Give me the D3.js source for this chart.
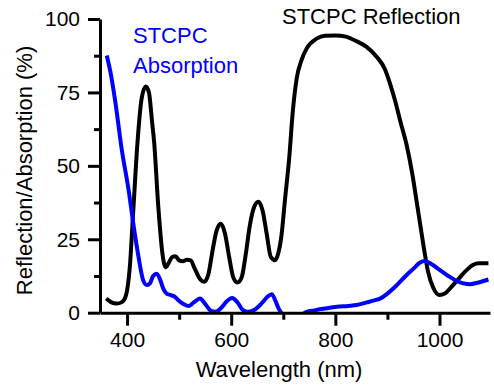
<!DOCTYPE html>
<html>
<head>
<meta charset="utf-8">
<script src="https://cdn.jsdelivr.net/npm/d3@7"></script>
<style>
  html, body { margin: 0; padding: 0; background: #fff; }
  svg { display: block; font-family: "Liberation Sans", Arial, sans-serif; }
</style>
</head>
<body>
<div id="chart"></div>
<script>
// Reflection spectrum (black)
const reflWl = [360, 370, 380, 390, 398, 405, 412, 420, 428, 436, 442, 448, 452, 460, 468, 474, 480, 487, 493, 500, 507, 515, 522, 530, 540, 548, 556, 564, 572, 580, 588, 596, 604, 612, 620, 628, 636, 644, 652, 660, 668, 676, 684, 690, 697, 703, 712, 718, 726, 735, 745, 764, 780, 800, 820, 840, 860, 880, 895, 905, 915, 925, 937, 948, 956, 963, 970, 978, 988, 1000, 1010, 1023, 1038, 1052, 1065, 1075, 1094];
const reflVal = [4.8, 3.5, 3.1, 3.6, 6, 15, 35, 58, 73, 77, 75, 65, 58, 36, 20, 15.5, 17, 19, 19.2, 17.8, 17.5, 18, 17.8, 15, 11.5, 10.5, 13, 21, 28, 30.3, 27, 19, 12, 10.3, 12, 20, 30, 36, 37.8, 35, 27, 19, 17.9, 20, 27, 38, 54, 68, 80, 86, 90, 93.3, 94.3, 94.4, 94, 92.5, 90.5, 87, 83, 78, 72, 65, 57, 47, 38, 30, 22, 14, 8.5, 6, 6.5, 8.8, 11.8, 14.5, 16.3, 16.8, 16.8];

// Absorption spectrum (blue)
const absWl = [361, 368, 377, 390, 403, 412, 422, 431, 438, 444, 450, 457, 464, 470, 476, 484, 492, 500, 510, 518, 528, 540, 550, 560, 569, 580, 592, 602, 612, 622, 633, 645, 660, 670, 678, 685, 691, 696, 705, 720, 735, 745, 760, 780, 803, 825, 841, 860, 875, 886, 900, 918, 935, 950, 962, 972, 985, 1001, 1017, 1033, 1046, 1059, 1075, 1094];
const absVal = [87.6, 82, 72.3, 55.3, 41.7, 30.3, 19, 11, 9.4, 10, 12.5, 13.3, 11, 8, 6.5, 6, 5.4, 4, 2.8, 2.3, 3.5, 4.8, 3, 0.8, 0.3, 1.5, 4, 5, 3.5, 1, 0.3, 1, 3.5, 5.5, 6.3, 4, 1.5, 0, -2, -2.5, -0.8, 0.3, 0.8, 1.4, 2, 2.3, 2.6, 3.5, 4.2, 4.8, 6.5, 9.4, 12.5, 15, 17, 17.6, 16.5, 14.5, 12.5, 10.8, 10, 9.7, 10.3, 11.3];

const xMajor = [400, 600, 800, 1000];
const xMinor = [500, 700, 900, 1100];
const yMajor = [0, 25, 50, 75, 100];
const yMinor = [12.5, 37.5, 62.5, 87.5];

const W = 494, H = 386;
const svg = d3.select('#chart').append('svg').attr('width', W).attr('height', H);

const x = d3.scaleLinear().domain([348, 1097]).range([100, 490]);
const y = d3.scaleLinear().domain([0, 100]).range([312.7, 19]);

svg.append('clipPath').attr('id', 'clip')
  .append('rect').attr('x', 100).attr('y', 0).attr('width', 395).attr('height', y(0));

const line = d3.line().x(d => x(d[0])).y(d => y(d[1])).curve(d3.curveMonotoneX);
const refl = reflWl.map((w, i) => [w, reflVal[i]]);
const abs = absWl.map((w, i) => [w, absVal[i]]);

svg.append('path').datum(refl).attr('d', line)
  .attr('fill', 'none').attr('stroke', '#000').attr('stroke-width', 4).attr('stroke-linejoin', 'round');
svg.append('path').datum(abs).attr('d', line).attr('clip-path', 'url(#clip)')
  .attr('fill', 'none').attr('stroke', '#0000ff').attr('stroke-width', 4).attr('stroke-linejoin', 'round');

// axes
function styleAxis(g) {
  g.selectAll('path, line').attr('stroke', '#000').attr('stroke-width', 3);
  g.selectAll('text').attr('fill', '#000').style('font-size', '21px').style('font-family', '"Liberation Sans", Arial, sans-serif');
}
svg.append('g').attr('transform', `translate(0,${y(0)})`)
  .call(d3.axisBottom(x).tickValues(xMinor.filter(v => v <= 1097)).tickSize(7).tickSizeOuter(0).tickFormat(''))
  .call(styleAxis).select('.domain').remove();
svg.append('g').attr('transform', `translate(0,${y(0)})`)
  .call(d3.axisBottom(x).tickValues(xMajor).tickSize(13).tickSizeOuter(0).tickPadding(6).tickFormat(d3.format('d')))
  .call(styleAxis);
svg.append('g').attr('transform', 'translate(100,0)')
  .call(d3.axisLeft(y).tickValues(yMinor).tickSize(6).tickSizeOuter(0).tickFormat(''))
  .call(styleAxis).select('.domain').remove();
svg.append('g').attr('transform', 'translate(100,0)')
  .call(d3.axisLeft(y).tickValues(yMajor).tickSize(12).tickSizeOuter(0).tickPadding(8).tickFormat(d3.format('d')))
  .call(styleAxis);

// titles
svg.append('text').attr('x', 279).attr('y', 376.5).attr('text-anchor', 'middle')
  .style('font-size', '22px').text('Wavelength (nm)');
svg.append('text').attr('transform', 'translate(32,170.5) rotate(-90)').attr('text-anchor', 'middle')
  .style('font-size', '22px').text('Reflection/Absorption (%)');

svg.append('text').attr('x', 282).attr('y', 24).style('font-size', '22px').attr('fill', '#000').text('STCPC Reflection');
svg.append('text').attr('x', 133).attr('y', 43.3).style('font-size', '22px').attr('fill', '#0000ff').text('STCPC');
svg.append('text').attr('x', 133).attr('y', 73.3).style('font-size', '22px').attr('fill', '#0000ff').text('Absorption');
</script>
</body>
</html>
